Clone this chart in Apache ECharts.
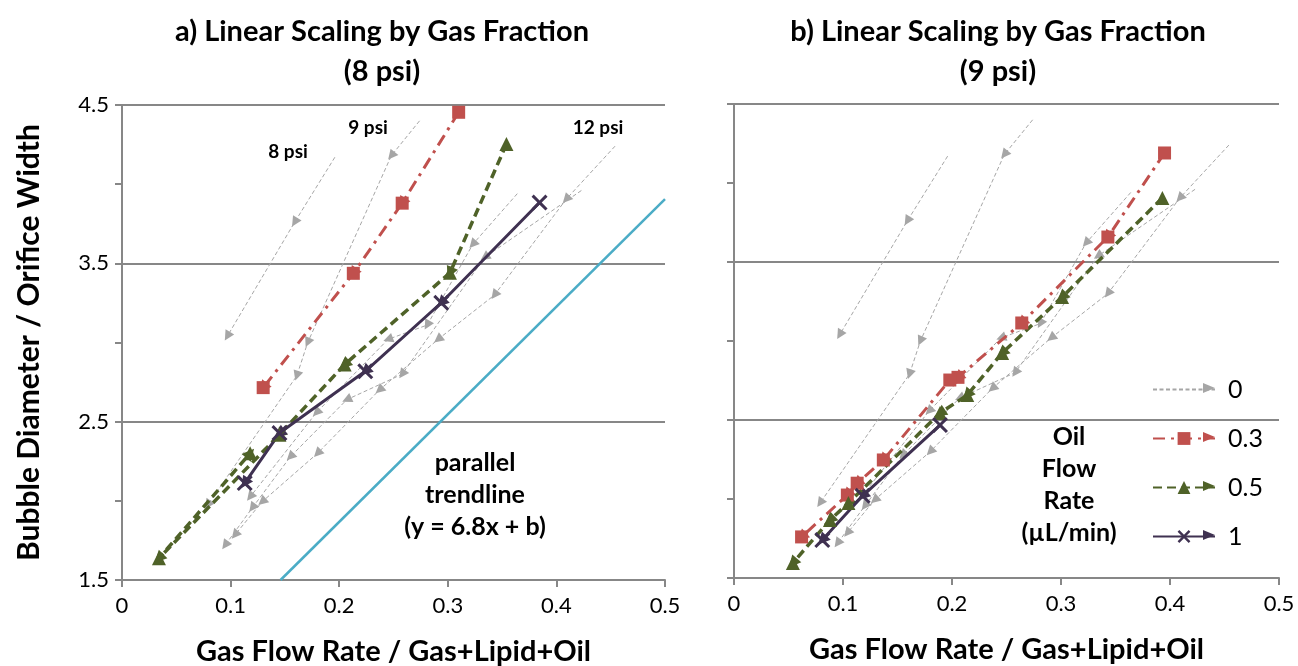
<!DOCTYPE html>
<html>
<head>
<meta charset="utf-8">
<script src="https://cdn.jsdelivr.net/npm/echarts@6/dist/echarts.min.js"></script>
<style>
  html, body { margin: 0; padding: 0; background: #fff; }
  #chart { width: 1298px; height: 666px; }
</style>
</head>
<body>
<div id="chart"></div>
<script>
// oil flow 0 (no oil) - same reference lines in both panels, one polyline per pressure
const grey8psi = [[0.196, 4.17], [0.159, 3.76], [0.097, 3.04]]
const grey9psi = [[0.274, 4.40], [0.248, 4.18], [0.171, 3.00], [0.161, 2.79], [0.079, 1.975]]
const greyA = [[0.364, 3.94], [0.323, 3.62], [0.281, 3.11], [0.245, 3.02], [0.179, 2.557], [0.118, 2.025]]
const greyB = [[0.454, 4.24], [0.409, 3.905], [0.343, 3.30], [0.291, 3.02], [0.237, 2.70], [0.180, 2.30], [0.129, 1.994], [0.104, 1.785]]
const greyC = [[0.423, 3.96], [0.334, 3.538], [0.258, 2.80], [0.207, 2.639], [0.155, 2.278], [0.120, 1.956], [0.095, 1.72]]

// panel a) 8 psi
const oil03a = [[0.310, 4.454], [0.258, 3.88], [0.213, 3.437], [0.130, 2.715]]
const oil05a = [[0.354, 4.253], [0.302, 3.44], [0.205, 2.861], [0.145, 2.418], [0.034, 1.637], [0.118, 2.30]]
const oil1a = [[0.3845, 3.884], [0.294, 3.251], [0.224, 2.818], [0.145, 2.428], [0.113, 2.112]]
const trendX = [0.146, 0.5]
const trendY = [1.5, 3.905]

// panel b) 9 psi
const oil03b = [[0.395, 4.19], [0.343, 3.658], [0.264, 3.114], [0.2055, 2.77], [0.198, 2.753], [0.137, 2.247], [0.113, 2.10], [0.104, 2.025], [0.062, 1.76]]
const oil05b = [[0.393, 3.905], [0.301, 3.278], [0.246, 2.924], [0.214, 2.658], [0.189, 2.544], [0.105, 1.975], [0.088, 1.867], [0.054, 1.595]]
const oil1b = [[0.189, 2.468], [0.118, 2.02], [0.081, 1.74]]

const legendNames = ['0', '0.3', '0.5', '1']
const titles = ['a) Linear Scaling by Gas Fraction\n(8 psi)', 'b) Linear Scaling by Gas Fraction\n(9 psi)']

const font = 'Lato, "Open Sans", sans-serif'
const axisGrey = '#878787'
const colors = { grey: '#A6A6A6', red: '#C0504D', green: '#4F6228', purple: '#3F3151', cyan: '#4BACC6' }
const xSymbol = 'path://M0,1.6 L1.6,0 L6,4.4 L10.4,0 L12,1.6 L7.6,6 L12,10.4 L10.4,12 L6,7.6 L1.6,12 L0,10.4 L4.4,6 Z'

const chart = echarts.init(document.getElementById('chart'))

function segments (pts) {
  return pts.slice(1).map((p, i) => ({ coords: [pts[i], p] }))
}

function arrows (panel, lists, color, size, z) {
  let data = []
  lists.forEach(l => { data = data.concat(segments(l)) })
  return {
    type: 'lines',
    coordinateSystem: 'cartesian2d',
    xAxisIndex: panel,
    yAxisIndex: panel,
    data: data,
    symbol: ['none', 'triangle'],
    symbolSize: size,
    lineStyle: { color: color, width: 0, opacity: 1 },
    silent: true,
    z: z
  }
}

function panelSeries (panel, red, green, purple) {
  const list = []
  const greys = [grey8psi, grey9psi, greyA, greyB, greyC]
  greys.forEach(g => {
    list.push({
      type: 'line', name: '0', xAxisIndex: panel, yAxisIndex: panel,
      data: g, symbol: 'none',
      lineStyle: { color: colors.grey, width: 1, type: [4, 2.5] },
      itemStyle: { color: colors.grey },
      z: 2
    })
  })
  list.push(arrows(panel, greys, colors.grey, 10, 2))
  if (panel === 0) {
    list.push({
      type: 'line', name: 'trend', xAxisIndex: 0, yAxisIndex: 0,
      data: [[trendX[0], trendY[0]], [trendX[1], trendY[1]]],
      symbol: 'none',
      lineStyle: { color: colors.cyan, width: 2.5 },
      z: 2
    })
  }
  list.push({
    type: 'line', name: '0.3', xAxisIndex: panel, yAxisIndex: panel, data: red,
    symbol: 'rect', symbolSize: 13, showAllSymbol: true,
    lineStyle: { color: colors.red, width: 3, type: [12, 6, 3, 6] },
    itemStyle: { color: colors.red },
    z: 5
  })
  list.push({
    type: 'line', name: '0.5', xAxisIndex: panel, yAxisIndex: panel, data: green,
    symbol: 'triangle', symbolSize: 14, showAllSymbol: true,
    lineStyle: { color: colors.green, width: 3.5, type: [9, 5] },
    itemStyle: { color: colors.green },
    z: 5
  })
  list.push({
    type: 'line', name: '1', xAxisIndex: panel, yAxisIndex: panel, data: purple,
    symbol: xSymbol, symbolSize: 16, showAllSymbol: true,
    lineStyle: { color: colors.purple, width: 3 },
    itemStyle: { color: colors.purple },
    z: 5
  })
  list.push(arrows(panel, [red], colors.red, 12, 4))
  list.push(arrows(panel, [green], colors.green, 12, 4))
  list.push(arrows(panel, [purple], colors.purple, 12, 4))
  return list
}

function xAxisFor (panel) {
  return {
    type: 'value', gridIndex: panel, min: 0, max: 0.5, interval: 0.1,
    axisLine: { show: true, lineStyle: { color: axisGrey, width: 2 } },
    axisTick: { show: true, length: 7, lineStyle: { color: axisGrey, width: 2 } },
    axisLabel: { fontSize: 22, color: '#000', margin: 15, fontFamily: font },
    splitLine: { show: false },
    name: 'Gas Flow Rate / Gas+Lipid+Oil',
    nameLocation: 'middle',
    nameGap: 57,
    nameTextStyle: { fontSize: 29, fontWeight: 'bold', color: '#000', fontFamily: font }
  }
}

function yAxisFor (panel) {
  return {
    type: 'value', gridIndex: panel, min: 1.5, max: 4.5, interval: 1,
    axisLine: { show: true, lineStyle: { color: axisGrey, width: 2 } },
    axisTick: { show: true, length: 7, lineStyle: { color: axisGrey, width: 2 } },
    minorTick: { show: true, splitNumber: 2, length: 7, lineStyle: { color: axisGrey, width: 2 } },
    axisLabel: { show: panel === 0, fontSize: 22, color: '#000', margin: 13, fontFamily: font },
    splitLine: { show: true, lineStyle: { color: axisGrey, width: 2 } },
    name: panel === 0 ? 'Bubble Diameter / Orifice Width' : '',
    nameLocation: 'middle',
    nameGap: 78,
    nameTextStyle: { fontSize: 30, fontWeight: 'bold', color: '#000', fontFamily: font }
  }
}

function label (x, y, text, size, lineHeight) {
  return {
    type: 'text', x: x, y: y, silent: true,
    style: {
      text: text, fill: '#000', font: 'bold ' + size + 'px ' + font,
      fontSize: size, fontWeight: 'bold', fontFamily: font,
      lineHeight: lineHeight || size,
      align: 'center', verticalAlign: 'middle',
      textAlign: 'center', textVerticalAlign: 'middle'
    }
  }
}

function legendArrow (y, color) {
  return {
    type: 'polygon', silent: true,
    shape: { points: [[1203, y - 5], [1215, y], [1203, y + 5]] },
    style: { fill: color }
  }
}

const option = {
  animation: false,
  backgroundColor: '#fff',
  title: [
    { text: titles[0], left: 377, top: 7, textAlign: 'center',
      textStyle: { fontSize: 29, fontWeight: 'bold', color: '#000', lineHeight: 40, fontFamily: font } },
    { text: titles[1], left: 993, top: 7, textAlign: 'center',
      textStyle: { fontSize: 29, fontWeight: 'bold', color: '#000', lineHeight: 40, fontFamily: font } }
  ],
  grid: [
    { left: 122, top: 105, width: 543, height: 475, outerBoundsMode: 'none', containLabel: false },
    { left: 734, top: 104, width: 545, height: 474, outerBoundsMode: 'none', containLabel: false }
  ],
  xAxis: [xAxisFor(0), xAxisFor(1)],
  yAxis: [yAxisFor(0), yAxisFor(1)],
  legend: {
    data: [
      { name: legendNames[0], itemStyle: { color: 'rgba(0,0,0,0)', opacity: 0 } },
      legendNames[1], legendNames[2], legendNames[3]
    ],
    orient: 'vertical',
    left: 1147,
    top: 372,
    itemWidth: 62,
    itemHeight: 16,
    itemGap: 24,
    selectedMode: false,
    textStyle: { fontSize: 25, color: '#000', fontFamily: font, padding: [0, 0, 0, 8] }
  },
  graphic: [
    label(288, 152, '8 psi', 19),
    label(368, 128, '9 psi', 19),
    label(598, 128, '12 psi', 19),
    label(475, 495, 'parallel\ntrendline\n(y = 6.8x + b)', 25, 32),
    label(1069, 485, 'Oil\nFlow\nRate\n(µL/min)', 25, 32),
    legendArrow(388, colors.grey),
    legendArrow(437, colors.red),
    legendArrow(486, colors.green),
    legendArrow(535, colors.purple)
  ],
  series: panelSeries(0, oil03a, oil05a, oil1a).concat(panelSeries(1, oil03b, oil05b, oil1b))
}

chart.setOption(option)
</script>
</body>
</html>
